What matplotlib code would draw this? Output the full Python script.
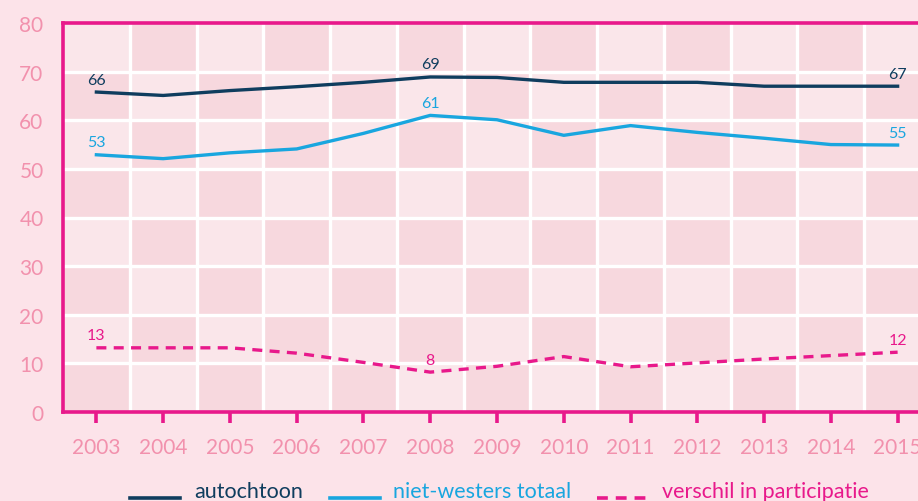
import numpy as np
import matplotlib
matplotlib.use("Agg")
import matplotlib.pyplot as plt
from matplotlib.lines import Line2D

# data
years = [2003, 2004, 2005, 2006, 2007, 2008, 2009, 2010, 2011, 2012, 2013, 2014, 2015]
autochtoon = [65.8, 65.1, 66.1, 66.9, 67.8, 68.9, 68.8, 67.8, 67.8, 67.8, 67.0, 67.0, 67.0]
niet_westers = [52.9, 52.1, 53.3, 54.1, 57.3, 61.0, 60.1, 56.9, 58.9, 57.5, 56.3, 55.0, 54.9]
verschil = [13.2, 13.2, 13.2, 12.1, 10.2, 8.2, 9.4, 11.4, 9.3, 10.1, 10.9, 11.6, 12.3]
labelled_years = [2003, 2008, 2015]
series_names = ["autochtoon", "niet-westers totaal", "verschil in participatie"]
y_ticks = [0, 10, 20, 30, 40, 50, 60, 70, 80]

NAVY = "#0f3d5e"
CYAN = "#19a6df"
MAGENTA = "#e8198b"
TICKPINK = "#f291ad"
BG = "#fce3e9"
CELL_DARK = "#f7d8de"
CELL_LIGHT = "#fae6ea"
DASH = (3, 2.2)

plt.rcParams["font.family"] = ["Lato", "DejaVu Sans"]

W, H = 918, 502
fig = plt.figure(figsize=(W / 100, H / 100), dpi=100)
fig.patch.set_facecolor(BG)
# axes runs past the right edge of the picture, like the reference
ax = fig.add_axes([63 / W, 89 / H, 868 / W, 389 / H])
ax.set_facecolor(BG)

x0, x1 = years[0] - 0.5, years[-1] + 0.5
ax.set_xlim(x0, x1)
ax.set_ylim(0, 80)

# checkerboard cells
xedges = np.arange(x0, x1 + 0.01, 1.0)
yedges = np.array(y_ticks, dtype=float)
ii, jj = np.meshgrid(np.arange(len(yedges) - 1), np.arange(len(xedges) - 1), indexing="ij")
board = ((ii + jj) % 2 == 0).astype(float)
cmap = matplotlib.colors.ListedColormap([CELL_LIGHT, CELL_DARK])
ax.pcolormesh(xedges, yedges, board, cmap=cmap, vmin=0, vmax=1, zorder=0)

# white grid between the cells
for xe in xedges[1:-1]:
    ax.axvline(xe, color="white", lw=2.4, zorder=1)
for ye in yedges[1:-1]:
    ax.axhline(ye, color="white", lw=2.4, zorder=1)

ax.plot(years, autochtoon, color=NAVY, lw=2.4, zorder=3)
ax.plot(years, niet_westers, color=CYAN, lw=2.4, zorder=3)
ax.plot(years, verschil, color=MAGENTA, lw=2.4, zorder=3, dashes=DASH)

for vals, col in [(autochtoon, NAVY), (niet_westers, CYAN), (verschil, MAGENTA)]:
    for yr in labelled_years:
        v = vals[years.index(yr)]
        ax.annotate(f"{round(v):d}", (yr, v), xytext=(0, 9), textcoords="offset points",
                    ha="center", va="center", color=col, fontsize=11.5, zorder=4)

for side in ["left", "bottom", "top", "right"]:
    ax.spines[side].set_color(MAGENTA)
    ax.spines[side].set_linewidth(2.6)
    ax.spines[side].set_zorder(5)

ax.set_xticks(years)
ax.set_xticklabels([str(y) for y in years])
ax.set_yticks(y_ticks)
ax.tick_params(axis="x", colors=MAGENTA, length=8, width=2.6, direction="out",
               pad=10, labelsize=15, labelcolor=TICKPINK)
ax.tick_params(axis="y", length=0, pad=14, labelsize=15, labelcolor=TICKPINK)

# legend along the bottom edge, lines sitting on the text baseline
legend_items = [
    (series_names[0], NAVY, None, 130, 194),
    (series_names[1], CYAN, None, 330, 393),
    (series_names[2], MAGENTA, DASH, 597, 662),
]
base_y = 1 - 498.5 / H
for name, col, dash, lx, tx in legend_items:
    ln = Line2D([lx / W, (lx + 50) / W], [base_y, base_y], transform=fig.transFigure,
                color=col, lw=2.6)
    if dash:
        ln.set_dashes(dash)
    fig.add_artist(ln)
    fig.text(tx / W, base_y, name, color=col, fontsize=15.5, ha="left", va="baseline")

fig.savefig("out.png", dpi=100, facecolor=BG)
